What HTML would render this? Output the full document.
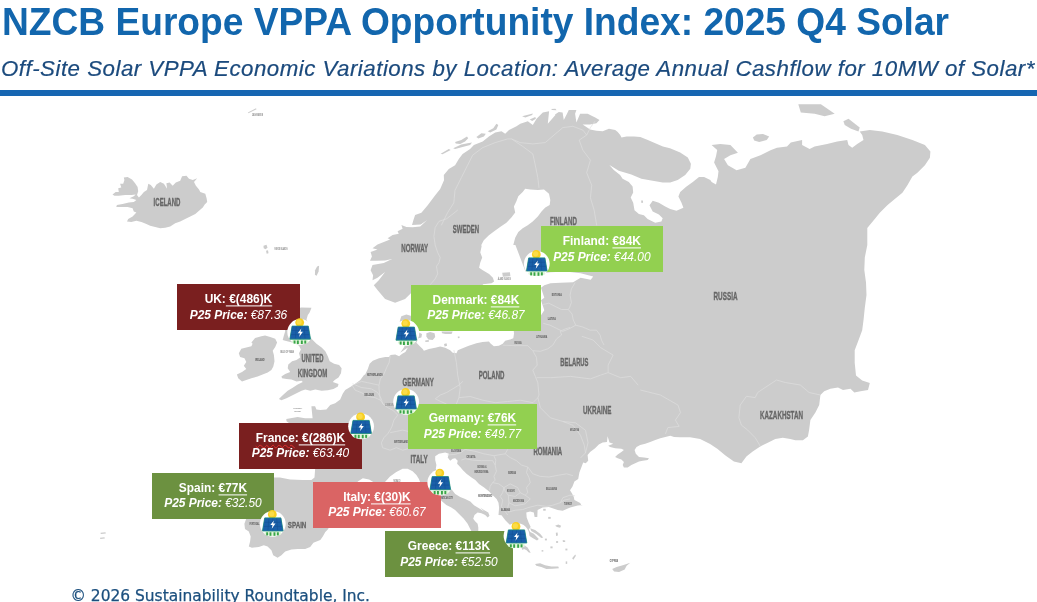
<!DOCTYPE html>
<html lang="en"><head><meta charset="utf-8"><title>NZCB Europe VPPA Opportunity Index: 2025 Q4 Solar</title>
<style>
html,body{margin:0;padding:0;background:#fff;}
body{width:1037px;height:602px;position:relative;overflow:hidden;font-family:"Liberation Sans",sans-serif;}
#title{position:absolute;left:1.6px;top:0.6px;font:bold 38.6px "Liberation Sans",sans-serif;color:#1266ad;white-space:nowrap;line-height:42px;transform:scaleX(0.9625);transform-origin:0 0;}
#sub{position:absolute;left:1px;top:56px;font:italic 22.3px "Liberation Sans",sans-serif;color:#1b4a7d;-webkit-text-stroke:0.2px #1b4a7d;white-space:nowrap;letter-spacing:0.49px;line-height:26px;}
#rule{position:absolute;left:0;top:89.8px;width:1037px;height:6px;background:#1666b2;}
#map{position:absolute;left:0;top:0;}
.box{position:absolute;color:#fff;text-align:center;white-space:nowrap;}
.box .in{position:absolute;left:-20px;right:-20px;top:50%;margin-top:0px;transform:translateY(-50%) scaleX(0.89);}
.l1{font:bold 13.4px "Liberation Sans",sans-serif;line-height:15.6px;}
.l1 u{text-decoration-thickness:1px;text-underline-offset:1.5px;text-decoration-skip-ink:none;white-space:pre;}
.l2{font:italic 13.4px "Liberation Sans",sans-serif;line-height:15.6px;}
.l2 b{font-weight:bold;}
#foot{position:absolute;left:70.5px;top:585.5px;-webkit-text-stroke:0.25px #1b4f7e;font:15.45px "DejaVu Sans","Liberation Sans",sans-serif;color:#1b4f7e;white-space:nowrap;line-height:20px;}
.cl{font:bold 11px "Liberation Sans",sans-serif;fill:#6b6b6b;}
</style></head><body>

<svg id="map" width="1037" height="602" viewBox="0 0 1037 602">
<g fill="#cccccc" stroke="none">
<path d="M435.2 297.7 L417.7 295.2 L411.4 292.7 L405.1 299.0 L395.1 302.8 L385.1 299.0 L377.5 290.0 L373.8 285.2 L378.8 280.2 L385.1 272.0 L377.5 277.7 L372.5 280.2 L373.1 275.2 L370.6 270.2 L372.5 265.1 L383.8 262.9 L392.0 258.9 L385.1 260.4 L376.3 260.8 L370.0 260.8 L371.9 256.4 L370.6 252.0 L377.5 249.5 L372.5 248.2 L377.5 244.5 L383.8 242.0 L390.1 239.4 L387.6 238.2 L392.6 235.1 L398.8 233.8 L397.6 231.3 L402.6 228.8 L401.4 225.0 L406.4 226.9 L412.6 227.2 L420.2 226.5 L427.1 220.0 L420.8 224.4 L412.0 225.0 L413.3 220.6 L415.1 215.0 L421.4 212.8 L427.7 205.3 L435.2 195.3 L440.2 189.0 L444.0 180.2 L443.8 175.0 L448.8 168.9 L455.1 165.2 L458.8 158.9 L462.6 153.9 L470.1 148.9 L473.9 145.1 L482.7 141.4 L488.9 136.4 L495.2 132.6 L501.5 131.3 L505.2 133.8 L509.0 130.1 L516.5 126.3 L520.3 123.8 L527.8 121.3 L532.8 125.1 L536.6 118.8 L542.8 112.5 L549.1 111.3 L547.8 123.8 L555.4 115.0 L555.0 114.4 L558.8 111.9 L562.6 112.5 L563.8 120.1 L567.0 113.8 L568.8 110.0 L576.4 110.0 L575.1 113.8 L576.4 122.6 L580.1 113.8 L587.6 113.8 L595.2 117.6 L599.5 120.1 L596.4 123.2 L590.1 124.4 L582.6 124.4 L590.1 129.5 L596.4 130.7 L602.7 131.3 L608.9 128.8 L615.2 130.1 L617.7 132.0 L620.2 135.1 L621.5 137.6 L626.5 136.4 L634.0 136.4 L640.3 137.0 L647.8 140.1 L655.3 143.2 L662.9 146.4 L670.0 148.3 L680.2 152.5 L687.8 157.5 L690.9 163.8 L690.3 168.8 L685.2 175.1 L677.7 180.1 L670.2 182.6 L662.7 182.6 L652.7 180.7 L641.4 178.8 L631.3 174.4 L618.8 170.7 L609.4 165.0 L613.8 170.1 L620.1 175.1 L622.6 178.8 L628.8 182.0 L632.6 186.4 L633.2 192.6 L630.7 197.6 L633.2 202.7 L634.5 210.2 L638.9 213.9 L643.9 215.2 L647.6 218.9 L655.2 222.7 L661.4 221.5 L662.7 218.3 L658.9 214.6 L652.7 211.4 L649.5 205.2 L652.7 200.8 L658.9 202.7 L665.2 206.4 L670.2 208.9 L676.5 210.8 L683.4 207.7 L681.5 202.7 L678.4 196.4 L680.2 192.0 L686.5 186.4 L692.8 182.0 L699.0 177.0 L704.1 177.0 L710.3 180.1 L711.6 182.0 L716.0 184.5 L717.8 177.0 L718.5 171.3 L714.1 162.5 L716.0 156.3 L717.2 150.0 L711.6 145.1 L720.3 143.9 L730.4 145.1 L737.9 152.7 L730.4 155.2 L724.1 158.9 L727.9 165.2 L736.6 170.2 L745.4 167.7 L750.4 158.9 L760.5 155.2 L770.5 150.2 L777.0 147.7 L787.0 146.4 L790.8 142.6 L802.1 140.1 L802.1 145.1 L809.6 148.9 L814.6 146.4 L827.1 143.9 L837.2 141.4 L847.2 140.1 L848.5 145.1 L852.2 147.7 L857.2 143.9 L863.5 140.1 L862.2 135.1 L859.7 131.4 L869.8 130.1 L882.3 131.4 L897.3 135.1 L912.4 140.1 L924.9 145.1 L930.4 151.4 L929.9 157.7 L924.9 165.2 L917.4 172.7 L912.4 176.5 L907.4 185.3 L902.4 192.8 L894.8 199.1 L887.3 205.3 L879.8 212.8 L873.5 220.4 L867.3 227.9 L867.3 244.9 L867.3 245.0 L864.8 257.5 L864.3 270.1 L866.0 282.6 L866.5 295.1 L864.8 307.7 L863.5 320.2 L862.2 330.2 L858.5 340.3 L854.7 350.3 L854.7 362.8 L856.0 375.4 L862.2 380.4 L869.8 382.9 L868.0 390.0 L860.5 391.3 L854.3 392.5 L850.5 388.8 L843.0 390.0 L838.0 387.5 L830.4 388.8 L824.2 391.3 L820.4 395.0 L819.2 405.1 L815.4 412.6 L810.4 420.1 L809.1 430.1 L807.9 436.4 L802.9 440.2 L795.3 440.2 L790.3 438.9 L782.8 437.7 L775.3 438.9 L767.8 442.7 L760.2 446.4 L752.7 451.5 L746.4 456.5 L741.4 463.2 L733.9 461.5 L725.1 455.2 L717.6 448.9 L710.1 443.9 L700.1 438.9 L690.0 437.2 L680.0 437.2 L674.1 436.9 L670.3 435.7 L665.3 436.9 L660.3 438.2 L655.3 440.0 L650.2 441.9 L645.2 443.8 L640.2 445.1 L636.5 446.9 L634.6 450.1 L635.8 453.8 L639.0 457.0 L644.0 457.6 L649.0 458.2 L647.7 460.1 L642.7 460.7 L639.0 461.4 L635.2 463.2 L631.4 465.1 L627.7 467.6 L623.9 467.6 L622.7 465.1 L623.9 462.0 L621.4 459.5 L617.7 458.2 L615.1 457.0 L617.7 454.5 L621.4 452.0 L623.9 450.1 L621.4 448.8 L615.1 448.2 L610.1 446.9 L608.2 445.7 L613.3 443.8 L609.5 442.6 L607.6 436.3 L607.0 441.9 L602.6 442.6 L598.8 444.4 L595.1 448.2 L590.1 452.0 L587.6 455.1 L588.2 460.7 L585.7 463.2 L583.2 462.6 L581.3 467.6 L579.4 472.6 L578.2 478.9 L574.4 481.4 L572.5 486.4 L570.0 490.2 L571.9 493.3 L573.8 497.1 L574.4 500.0 L580.2 502.9 L581.4 505.4 L582.7 505.0 L577.7 505.6 L570.2 507.5 L562.7 510.7 L557.6 510.0 L548.9 506.9 L542.6 507.5 L537.6 510.0 L537.3 516.9 L534.6 516.9 L533.8 512.5 L530.1 511.5 L526.3 512.5 L526.7 517.6 L528.6 522.6 L530.7 527.0 L528.8 529.5 L530.1 532.0 L533.8 533.8 L538.8 538.9 L537.0 540.4 L532.6 537.9 L528.8 535.4 L527.6 537.6 L526.3 542.6 L525.0 545.8 L527.6 547.6 L530.7 552.7 L528.8 552.4 L526.3 550.1 L524.0 549.1 L522.5 550.1 L520.3 545.3 L515.3 535.3 L510.3 525.2 L505.3 520.2 L501.5 515.2 L498.5 515.0 L499.1 507.7 L498.5 502.7 L496.6 498.9 L492.8 495.2 L489.1 491.4 L484.1 487.6 L479.0 483.9 L475.3 480.1 L471.5 477.6 L466.5 473.8 L462.7 470.1 L460.2 467.0 L457.1 463.8 L457.7 460.7 L455.2 458.2 L452.7 458.8 L450.2 460.7 L447.7 457.6 L448.9 453.8 L445.2 452.5 L438.9 453.8 L435.2 456.3 L435.2 460.1 L436.4 465.1 L435.8 468.8 L442.7 481.4 L452.1 490.1 L455.2 493.9 L460.2 497.0 L465.2 498.9 L470.3 501.4 L474.0 505.2 L479.0 508.3 L484.1 511.5 L487.8 515.0 L480.1 507.5 L483.9 510.0 L488.3 512.5 L489.5 515.7 L487.7 517.6 L485.2 515.0 L481.4 513.2 L477.6 512.5 L474.5 515.0 L473.2 518.8 L475.1 521.3 L477.6 523.8 L478.3 527.6 L478.3 531.0 L477.6 536.4 L473.9 537.6 L471.4 535.1 L471.4 531.0 L470.1 528.8 L467.6 523.8 L463.8 518.8 L458.8 513.8 L455.1 510.0 L451.3 507.5 L446.3 505.0 L441.9 501.3 L440.7 500.0 L430.1 490.1 L420.1 482.0 L418.9 478.9 L416.4 475.1 L412.6 471.3 L407.6 468.8 L402.6 468.8 L396.3 472.0 L390.0 476.4 L385.0 482.0 L385.3 482.6 L374.1 482.6 L369.1 479.5 L362.8 478.2 L357.8 481.4 L357.1 483.2 L327.8 521.3 L329.0 527.6 L327.8 529.5 L325.3 532.0 L322.8 536.4 L320.3 540.1 L313.4 542.7 L310.2 547.0 L305.2 548.9 L297.7 548.9 L291.4 549.5 L285.2 551.4 L281.4 555.2 L277.6 557.7 L273.2 555.2 L271.4 550.2 L267.6 546.4 L263.8 545.2 L258.8 547.0 L251.9 547.7 L248.8 546.4 L250.1 541.4 L250.7 536.4 L248.8 531.4 L245.0 528.9 L244.4 523.8 L246.3 518.6 L246.3 502.5 L248.8 482.5 L265.0 477.6 L273.8 477.6 L280.0 477.6 L290.1 479.5 L302.6 480.1 L311.4 480.1 L314.5 477.6 L315.1 469.5 L314.5 458.8 L310.3 450.1 L305.3 437.6 L295.3 427.6 L286.5 421.3 L286.3 418.9 L297.6 417.0 L305.1 418.2 L312.6 418.2 L312.0 412.6 L311.4 406.3 L315.1 406.3 L316.4 409.5 L320.2 410.1 L326.4 409.5 L330.2 405.1 L335.2 403.2 L340.2 399.4 L342.7 393.8 L345.2 390.0 L350.2 386.9 L355.3 383.8 L360.3 380.0 L364.0 375.0 L365.2 374.5 L367.8 368.9 L369.6 363.8 L372.8 360.7 L379.0 358.2 L385.3 357.0 L389.1 357.0 L390.3 355.1 L395.3 354.4 L399.1 356.3 L402.2 353.8 L405.4 351.9 L407.9 347.6 L400.1 352.7 L402.0 350.2 L404.5 346.4 L402.6 340.1 L399.5 332.6 L398.8 326.4 L400.1 320.1 L401.3 316.3 L406.4 314.4 L410.7 315.7 L412.6 321.3 L415.1 327.6 L418.9 332.6 L422.0 333.9 L421.4 337.6 L418.3 338.3 L416.4 342.7 L420.1 346.4 L422.7 348.9 L423.9 350.8 L428.9 348.9 L435.2 347.7 L440.2 346.4 L445.2 347.7 L450.2 350.2 L452.7 352.7 L456.5 353.3 L457.8 350.2 L462.6 348.2 L468.8 345.7 L476.4 343.2 L482.6 341.9 L488.9 341.6 L490.8 343.8 L493.9 346.3 L498.9 345.7 L502.7 343.8 L505.2 340.7 L510.2 339.4 L513.3 338.2 L514.0 333.8 L513.7 330.0 L541.0 315.3 L544.3 310.3 L541.0 300.2 L544.3 297.7 L541.0 287.7 L544.3 285.2 L550.5 283.2 L560.6 282.7 L573.1 282.2 L580.6 277.7 L590.7 279.7 L593.2 276.4 L580.6 273.2 L565.6 271.4 L550.5 272.2 L535.5 273.9 L525.5 271.4 L523.0 265.1 L519.2 255.1 L515.4 245.1 L513.3 245.0 L515.2 237.7 L518.3 232.1 L522.7 228.3 L527.7 225.2 L532.7 221.4 L537.8 216.4 L541.5 211.4 L545.3 207.6 L549.7 205.1 L550.3 200.1 L549.0 193.8 L544.0 189.4 L537.8 190.1 L530.2 189.4 L525.2 188.8 L522.7 191.9 L518.3 196.3 L516.4 201.3 L513.9 206.4 L515.2 212.6 L511.4 217.6 L506.4 222.7 L500.1 227.0 L493.9 231.4 L488.9 235.2 L483.8 240.2 L481.3 245.0 L481.6 246.3 L480.3 252.6 L482.2 257.6 L480.3 262.6 L479.1 267.7 L482.8 270.2 L489.1 273.9 L492.9 277.7 L494.1 281.4 L491.6 283.3 L482.8 284.2 L482.8 292.7 Z"/>
<path d="M112.5 194.5 L115.7 192.0 L118.8 192.0 L118.2 188.2 L121.3 187.6 L120.1 183.8 L123.2 183.8 L124.4 180.0 L123.8 177.5 L127.6 176.9 L132.0 179.4 L135.1 183.2 L137.6 186.9 L138.2 191.3 L137.0 195.1 L138.9 197.6 L141.4 195.1 L143.9 192.0 L147.0 190.1 L148.3 183.8 L150.8 185.1 L153.9 188.8 L156.4 184.4 L160.2 181.9 L163.9 183.8 L167.1 188.8 L166.4 183.2 L169.6 182.6 L172.7 185.7 L175.8 182.6 L180.2 180.7 L182.1 176.3 L186.5 175.7 L189.0 178.8 L192.8 180.0 L197.2 178.2 L194.0 181.9 L195.9 185.7 L199.0 189.4 L200.3 192.0 L205.3 193.8 L206.6 198.2 L207.2 202.0 L204.7 204.5 L202.8 207.6 L199.0 210.8 L195.3 213.9 L190.3 216.4 L185.2 218.9 L180.2 221.4 L175.2 223.3 L170.2 226.4 L165.2 227.7 L160.2 228.3 L155.2 227.1 L150.1 225.8 L146.4 223.9 L141.4 222.0 L136.4 220.8 L131.3 222.0 L127.0 221.4 L128.2 218.9 L132.6 216.4 L136.4 212.6 L133.8 211.4 L132.6 208.2 L127.6 207.0 L121.3 207.0 L116.3 207.0 L116.9 205.1 L122.6 203.9 L128.8 202.6 L133.8 202.0 L136.4 200.1 L132.6 198.8 L129.5 198.2 L133.8 196.3 L135.7 194.5 L131.3 195.1 L125.1 195.1 L118.8 195.7 L114.4 195.7 Z"/>
<path d="M263.5 245.7 L266.5 244.7 L267.5 247.8 L265.5 249.3 L263.7 248.3 Z"/>
<path d="M266.0 250.8 L268.0 250.3 L268.5 253.3 L266.7 253.8 Z"/>
<path d="M315.1 270.3 L317.1 266.6 L319.1 265.8 L318.6 271.6 L316.6 275.8 L314.9 274.8 Z"/>
<path d="M311.5 338.8 L316.5 343.8 L321.6 347.6 L325.3 351.3 L327.8 356.3 L329.7 361.3 L334.1 363.8 L339.1 365.1 L341.6 368.2 L341.0 373.2 L338.5 377.6 L334.7 380.1 L332.8 382.0 L338.5 383.9 L337.9 386.4 L333.5 388.9 L327.8 390.2 L321.6 390.8 L315.3 389.5 L310.3 390.8 L305.3 389.5 L301.5 390.8 L296.5 393.3 L291.5 395.8 L286.5 398.3 L281.4 400.2 L278.9 398.9 L282.7 395.2 L287.7 390.8 L292.7 387.7 L297.7 384.5 L302.8 382.0 L301.5 380.8 L296.5 381.4 L291.5 379.5 L286.5 378.9 L282.1 378.3 L281.4 376.4 L285.2 373.9 L290.2 372.0 L287.7 368.2 L288.3 364.5 L292.1 361.3 L296.5 360.1 L300.2 357.6 L299.0 353.2 L300.9 349.4 L299.0 345.7 L295.2 343.2 L290.2 341.9 L285.2 340.7 L282.7 340.0 L283.9 335.6 L285.2 331.3 L283.9 323.7 L287.7 317.5 L292.7 311.2 L300.9 307.4 L311.5 307.7 L309.6 312.4 L307.8 315.1 L306.5 319.5 L309.0 325.0 L310.9 332.5 Z"/>
<path d="M251.4 342.5 L255.1 338.1 L261.4 336.3 L265.1 335.6 L270.2 336.9 L275.2 338.8 L277.1 342.5 L275.2 346.9 L272.7 350.7 L273.9 355.1 L274.5 361.3 L273.3 366.4 L271.4 370.1 L267.7 372.6 L262.6 374.5 L257.6 376.4 L251.4 378.3 L246.3 380.1 L242.0 381.4 L238.2 378.3 L236.9 374.5 L242.0 372.0 L246.3 368.9 L243.8 365.7 L246.3 362.0 L244.5 358.2 L240.1 357.0 L238.8 353.2 L241.3 348.8 L246.3 347.6 L251.4 346.3 L252.6 343.8 Z"/>
<path d="M440.7 153.7 L448.8 149.1 L450.7 150.1 L442.5 154.2 Z"/>
<path d="M453.2 148.3 L461.3 144.5 L467.6 143.2 L472.0 142.6 L470.1 145.1 L462.6 147.0 L455.1 149.1 Z"/>
<path d="M455.1 142.0 L461.3 140.1 L467.0 136.6 L468.2 138.2 L465.1 141.4 L460.1 143.9 L455.7 143.6 Z"/>
<path d="M476.4 137.0 L481.4 133.2 L485.8 133.8 L483.9 136.4 L478.3 138.6 Z"/>
<path d="M487.7 131.3 L493.3 128.2 L496.4 123.8 L498.3 125.1 L496.4 129.5 L490.2 132.6 Z"/>
<path d="M522.1 116.3 L529.0 114.4 L532.8 113.5 L532.2 115.0 L525.3 117.6 Z"/>
<path d="M529.7 119.4 L535.3 116.9 L535.9 118.8 L532.2 121.1 Z"/>
<path d="M551.0 109.0 L555.4 108.8 L556.6 110.3 L552.2 110.0 Z"/>
<path d="M535.1 563.9 L540.1 563.3 L545.1 565.2 L551.4 566.4 L558.3 566.4 L558.9 568.3 L552.6 568.7 L546.4 568.9 L541.3 567.1 L536.3 565.8 Z"/>
<path d="M612.2 568.9 L616.6 567.1 L622.8 565.2 L630.3 562.7 L626.6 565.8 L624.7 569.6 L619.1 572.1 L614.1 571.5 Z"/>
<path d="M530.1 528.2 L535.1 530.1 L540.1 533.8 L543.2 537.6 L541.3 537.9 L536.3 534.1 L531.3 531.0 Z"/>
<path d="M572.1 558.3 L575.2 554.5 L575.9 555.8 L573.4 559.7 Z"/>
<path d="M555.1 525.7 L558.3 524.4 L561.1 525.7 L560.1 527.8 L557.0 527.0 Z"/>
<path d="M555.8 532.8 L557.6 532.6 L557.9 535.6 L556.1 535.9 Z"/>
<path d="M562.7 540.1 L565.2 540.4 L565.2 542.0 L562.9 542.0 Z"/>
<path d="M543.2 508.8 L545.7 508.8 L545.7 510.7 L543.2 510.7 Z"/>
<path d="M548.2 516.9 L550.7 516.9 L550.7 518.8 L548.2 518.8 Z"/>
<path d="M550.4 546.4 L552.6 546.4 L552.6 548.3 L550.4 548.3 Z"/>
<path d="M544.9 538.6 L546.9 538.6 L546.9 540.4 L544.9 540.4 Z"/>
<path d="M541.6 550.1 L543.3 550.1 L543.3 551.6 L541.6 551.6 Z"/>
<path d="M565.4 548.6 L567.4 548.6 L567.4 550.4 L565.4 550.4 Z"/>
<path d="M556.1 541.1 L558.1 541.1 L558.1 542.9 L556.1 542.9 Z"/>
<path d="M565.7 561.4 L567.2 561.4 L567.2 563.9 L565.7 563.9 Z"/>
<path d="M502.2 272.7 L509.9 272.2 L510.4 276.2 L502.9 276.7 Z"/>
<path d="M426.4 333.2 L430.2 332.0 L434.6 333.2 L435.2 337.0 L432.7 340.1 L428.3 339.5 L426.4 336.4 Z"/>
<path d="M441.5 331.4 L452.7 331.4 L451.5 333.9 L445.2 333.9 L442.1 333.2 Z"/>
<path d="M444.0 343.9 L446.5 343.3 L447.1 345.8 L444.6 346.4 Z"/>
<path d="M425.2 340.4 L428.7 340.1 L428.9 341.8 L425.4 342.0 Z"/>
<path d="M457.8 336.4 L459.5 336.4 L459.6 338.1 L457.9 338.3 Z"/>
<path d="M247.9 112.5 L256.0 108.3 L256.5 109.2 L248.4 113.3 Z"/>
<path d="M100.5 532.7 L105.5 532.2 L105.8 533.5 L100.8 534.0 Z"/>
<path d="M100.0 537.7 L104.5 537.2 L104.8 538.5 L100.3 539.0 Z"/>
<path d="M641.1 200.4 L642.9 200.4 L643.1 202.7 L641.4 202.9 Z"/>
<path d="M752.9 137.6 L756.7 134.6 L763.0 133.9 L769.2 136.4 L766.7 140.1 L759.2 141.9 L754.2 140.6 Z"/>
<path d="M798.3 104.3 L820.9 104.3 L834.7 113.8 L824.6 116.3 L814.6 113.8 L800.8 112.6 Z"/>
<path d="M843.4 121.3 L848.5 118.8 L859.7 127.6 L858.5 131.4 L851.0 128.8 L844.7 125.1 Z"/>
</g>
<g fill="#ffffff" stroke="none">
</g>
<g fill="none" stroke="#dedede" stroke-width="0.7" stroke-linejoin="round">
<path d="M441.3 225.4 L447.5 212.8 L453.8 202.8 L455.0 190.3 L461.3 177.7 L467.6 165.2 L472.6 155.2 L482.6 147.7 L495.2 142.6 L507.7 138.9 L511.5 138.9"/>
<path d="M511.5 138.9 L520.2 142.6 L532.8 143.9 L545.3 142.6 L555.3 133.9 L562.9 127.6 L572.9 126.3 L582.9 130.1 L586.7 135.1"/>
<path d="M586.7 135.1 L590.4 127.6 L594.9 121.3"/>
<path d="M511.5 138.9 L522.7 146.4 L532.8 153.9 L535.3 165.2 L537.8 177.7 L539.0 187.8"/>
<path d="M586.7 135.1 L579.2 140.1 L582.9 150.2 L590.4 160.2 L586.7 172.7 L591.7 185.3 L590.4 197.8 L594.2 210.3 L596.7 225.4"/>
<path d="M457.8 210.0 L451.5 215.0 L446.5 218.8 L439.0 221.3 L435.2 227.5 L433.9 236.3 L435.2 245.1 L437.7 252.6 L440.2 257.6 L439.0 262.6 L436.5 266.4 L437.7 273.9 L435.2 278.9 L431.4 283.3 L430.2 284.7"/>
<path d="M575.2 282.5 L571.4 288.8 L570.1 295.1 L571.4 302.6 L569.5 307.6 L568.3 309.5"/>
<path d="M543.2 304.5 L548.8 303.2 L555.1 306.4 L561.4 309.5 L568.3 309.5"/>
<path d="M568.3 309.5 L572.0 313.9 L573.3 320.1 L575.8 325.2"/>
<path d="M543.2 323.3 L550.1 325.2 L556.4 328.3 L562.6 331.4 L568.9 328.9 L575.8 325.2"/>
<path d="M575.8 325.2 L582.7 327.0 L590.2 330.2 L596.5 330.2 L600.2 335.2 L601.5 340.2 L604.0 345.0"/>
<path d="M453.9 350.1 L456.4 362.6 L457.7 375.1 L460.2 387.7 L458.9 397.7 L456.4 404.0"/>
<path d="M458.9 397.7 L470.2 396.5 L482.7 400.2 L495.3 402.7 L507.8 401.5 L520.3 400.2 L532.9 402.7 L537.9 397.7"/>
<path d="M532.8 350.7 L536.5 357.6 L537.2 365.1 L532.8 370.1 L535.3 376.4 L537.8 382.7 L539.0 395.0 L537.8 397.7"/>
<path d="M502.7 345.1 L515.2 345.7 L527.8 345.7 L532.8 350.7"/>
<path d="M532.8 350.7 L540.3 351.3 L547.8 348.8 L552.8 345.1 L556.6 338.8 L561.6 335.0 L560.3 331.3 L565.4 328.8 L570.0 327.5"/>
<path d="M536.6 377.7 L550.4 377.7 L570.5 376.4 L590.5 378.9 L600.6 375.1 L608.1 372.6"/>
<path d="M581.8 336.3 L593.1 340.0 L600.6 347.6 L613.1 355.1 L608.1 365.1 L608.1 372.6"/>
<path d="M608.1 372.6 L620.6 377.7 L630.7 376.4 L638.2 385.2"/>
<path d="M640.3 390.0 L660.4 395.0 L678.0 405.1 L680.5 412.6 L675.4 420.1 L679.2 426.4 L667.9 427.6 L665.4 433.9"/>
<path d="M537.9 397.7 L540.4 407.7 L550.4 417.8 L563.0 421.5 L575.5 422.8 L585.5 430.3 L588.0 442.8 L585.5 452.9 L580.5 457.9"/>
<path d="M563.0 421.5 L573.0 425.3 L580.5 435.3 L584.3 445.3 L585.5 452.9"/>
<path d="M820.4 395.0 L809.1 392.5 L800.3 385.0 L785.3 382.5 L776.5 380.0 L765.2 387.5 L757.7 392.5 L755.2 397.6 L746.4 396.3 L740.2 405.1 L738.9 417.6 L741.4 425.1 L747.7 430.1 L755.2 437.7 L759.0 443.9 L760.2 446.4"/>
<path d="M447.5 455.0 L455.0 454.4 L461.3 452.5 L465.1 449.4"/>
<path d="M465.1 449.4 L475.1 451.3 L483.9 453.8 L493.9 455.7"/>
<path d="M461.3 460.1 L465.1 458.8 L472.6 460.1 L481.4 460.7 L492.7 460.7 L495.2 465.1 L496.4 471.3 L493.9 476.4 L495.2 480.1 L492.7 482.6 L490.1 486.4 L489.5 490.1"/>
<path d="M493.9 455.7 L495.8 460.1 L495.2 465.1"/>
<path d="M492.7 482.6 L498.9 483.9 L503.9 487.6 L502.7 492.7 L500.2 496.4"/>
<path d="M507.7 449.4 L505.2 453.8 L493.9 455.7"/>
<path d="M505.2 453.8 L510.2 457.6 L516.5 460.7 L521.5 465.1 L527.8 467.0 L526.5 472.6 L529.0 477.6 L530.3 482.6 L526.5 487.6 L527.8 492.7 L525.2 495.2"/>
<path d="M503.9 487.6 L510.2 483.9 L517.7 487.6 L520.2 492.7 L515.2 496.4 L508.3 495.2 L505.2 491.4 L503.9 487.6"/>
<path d="M508.3 495.2 L508.9 502.7 L515.2 505.8 L525.2 503.9 L530.3 498.9 L525.2 495.2 L520.2 492.7"/>
<path d="M500.2 496.4 L502.7 500.2 L501.4 506.4 L505.2 511.5 L507.7 515.0"/>
<path d="M508.9 502.7 L507.7 507.7 L508.3 512.1"/>
<path d="M508.3 512.1 L515.2 510.2 L522.7 509.6 L527.8 507.7 L537.8 505.2 L546.6 506.4 L552.8 505.2 L560.3 502.7 L564.1 500.2 L570.0 498.9"/>
<path d="M527.8 467.0 L532.8 473.8 L540.3 476.4 L549.1 477.0 L559.1 475.1 L566.6 473.8 L572.9 475.7"/>
<path d="M560.3 502.7 L562.9 497.7 L570.0 495.2 L574.8 495.8"/>
<path d="M352.5 383.8 L361.3 387.5 L371.3 388.8 L377.6 392.5 L381.4 398.8 L382.6 403.8 L387.6 407.6 L392.7 410.1 L395.2 412.6 L397.7 415.1 L393.9 420.1 L392.0 426.4 L390.1 430.1 L387.6 433.9 L383.9 437.7 L381.4 442.7 L382.6 447.7 L390.1 450.2 L396.4 447.7 L402.7 450.2 L408.3 448.7"/>
<path d="M390.1 432.7 L396.4 431.4 L402.7 430.1 L408.3 431.4"/>
<path d="M462.9 381.3 L459.1 385.0 L452.8 388.8 L446.6 392.5 L440.3 395.0 L435.3 398.8 L440.3 401.3 L446.6 404.1"/>
<path d="M390.3 355.1 L389.1 362.6 L386.6 367.6 L384.1 373.9 L380.3 378.9 L379.0 385.2"/>
<path d="M355.2 383.9 L361.5 381.4 L367.8 382.7 L379.0 385.2 L379.0 388.9 L380.3 400.2"/>
<path d="M352.1 385.2 L355.2 390.2 L361.5 392.7 L367.8 396.4 L375.3 397.7 L380.3 400.2 L384.1 405.0"/>
</g>
<g font-family="Liberation Sans, sans-serif" font-weight="bold" fill="#666666" stroke="#666666" stroke-width="0.35" text-anchor="middle">
<text x="167.0" y="205.5" font-size="11.2" textLength="26.8" lengthAdjust="spacingAndGlyphs">ICELAND</text>
<text x="312.5" y="362.0" font-size="10.6" textLength="21.9" lengthAdjust="spacingAndGlyphs">UNITED</text>
<text x="312.5" y="377.0" font-size="10.6" textLength="29.5" lengthAdjust="spacingAndGlyphs">KINGDOM</text>
<text x="297.1" y="527.6" font-size="9.8" textLength="18.5" lengthAdjust="spacingAndGlyphs">SPAIN</text>
<text x="419.2" y="463.4" font-size="11.2" textLength="17.2" lengthAdjust="spacingAndGlyphs">ITALY</text>
<text x="465.9" y="232.9" font-size="11.2" textLength="26.3" lengthAdjust="spacingAndGlyphs">SWEDEN</text>
<text x="563.4" y="225.4" font-size="11.2" textLength="27.0" lengthAdjust="spacingAndGlyphs">FINLAND</text>
<text x="414.7" y="252.1" font-size="11.2" textLength="26.8" lengthAdjust="spacingAndGlyphs">NORWAY</text>
<text x="574.4" y="366.1" font-size="11.2" textLength="28.1" lengthAdjust="spacingAndGlyphs">BELARUS</text>
<text x="491.6" y="379.4" font-size="11.2" textLength="25.6" lengthAdjust="spacingAndGlyphs">POLAND</text>
<text x="418.2" y="386.2" font-size="11.2" textLength="31.3" lengthAdjust="spacingAndGlyphs">GERMANY</text>
<text x="725.5" y="300.1" font-size="11.2" textLength="24.0" lengthAdjust="spacingAndGlyphs">RUSSIA</text>
<text x="597.2" y="413.6" font-size="11.2" textLength="28.3" lengthAdjust="spacingAndGlyphs">UKRAINE</text>
<text x="547.8" y="455.0" font-size="10.6" textLength="28.8" lengthAdjust="spacingAndGlyphs">ROMANIA</text>
<text x="781.5" y="418.6" font-size="11.2" textLength="43.0" lengthAdjust="spacingAndGlyphs">KAZAKHSTAN</text>
<text x="259.9" y="361.0" font-size="3.4" textLength="9.4" lengthAdjust="spacingAndGlyphs" stroke-width="0.08">IRELAND</text>
<text x="254.4" y="524.7" font-size="3.1" textLength="10.0" lengthAdjust="spacingAndGlyphs" stroke-width="0.08">PORTUGAL</text>
<text x="374.9" y="376.1" font-size="3.4" textLength="15.7" lengthAdjust="spacingAndGlyphs" stroke-width="0.08">NETHERLANDS</text>
<text x="369.3" y="395.6" font-size="3.4" textLength="9.4" lengthAdjust="spacingAndGlyphs" stroke-width="0.08">BELGIUM</text>
<text x="556.8" y="296.4" font-size="3.4" textLength="10.0" lengthAdjust="spacingAndGlyphs" stroke-width="0.08">ESTONIA</text>
<text x="551.8" y="319.7" font-size="3.4" textLength="8.0" lengthAdjust="spacingAndGlyphs" stroke-width="0.08">LATVIA</text>
<text x="541.8" y="337.7" font-size="3.4" textLength="11.0" lengthAdjust="spacingAndGlyphs" stroke-width="0.08">LITHUANIA</text>
<text x="518.0" y="343.7" font-size="3.1" textLength="7.0" lengthAdjust="spacingAndGlyphs" stroke-width="0.08">RUSSIA</text>
<text x="456.1" y="452.4" font-size="3.1" textLength="10.0" lengthAdjust="spacingAndGlyphs" stroke-width="0.08">SLOVENIA</text>
<text x="470.9" y="458.3" font-size="3.1" textLength="9.0" lengthAdjust="spacingAndGlyphs" stroke-width="0.08">CROATIA</text>
<text x="485.3" y="496.5" font-size="3.1" textLength="14.0" lengthAdjust="spacingAndGlyphs" stroke-width="0.08">MONTENEGRO</text>
<text x="551.5" y="490.4" font-size="3.4" textLength="11.0" lengthAdjust="spacingAndGlyphs" stroke-width="0.08">BULGARIA</text>
<text x="574.6" y="430.9" font-size="3.1" textLength="9.0" lengthAdjust="spacingAndGlyphs" stroke-width="0.08">MOLDOVA</text>
<text x="401.0" y="442.6" font-size="3.1" textLength="14.0" lengthAdjust="spacingAndGlyphs" stroke-width="0.08">SWITZERLAND</text>
<text x="568.0" y="504.9" font-size="3.1" textLength="8.0" lengthAdjust="spacingAndGlyphs" stroke-width="0.08">TURKEY</text>
<text x="482.0" y="468.1" font-size="3.1" textLength="9.0" lengthAdjust="spacingAndGlyphs" stroke-width="0.08">BOSNIA &amp;</text>
<text x="481.4" y="473.1" font-size="3.1" textLength="14.0" lengthAdjust="spacingAndGlyphs" stroke-width="0.08">HERZEGOVINA</text>
<text x="446.9" y="498.8" font-size="3.1" textLength="12.0" lengthAdjust="spacingAndGlyphs" stroke-width="0.08">VATICAN CITY</text>
<text x="397.0" y="482.0" font-size="2.8" textLength="7.0" lengthAdjust="spacingAndGlyphs" stroke="none" fill="#8a8a8a">MONACO</text>
<text x="257.5" y="116.1" font-size="2.8" textLength="11.0" lengthAdjust="spacingAndGlyphs" stroke="none" fill="#8a8a8a">JAN MAYEN</text>
<text x="281.0" y="250.0" font-size="2.8" textLength="13.0" lengthAdjust="spacingAndGlyphs" stroke="none" fill="#8a8a8a">FAROE ISLANDS</text>
<text x="287.1" y="352.7" font-size="2.8" textLength="14.0" lengthAdjust="spacingAndGlyphs" stroke="none" fill="#8a8a8a">ISLE OF MAN</text>
<text x="504.2" y="280.0" font-size="2.8" textLength="13.0" lengthAdjust="spacingAndGlyphs" stroke="none" fill="#8a8a8a">ÅLAND ISLANDS</text>
<text x="297.8" y="408.5" font-size="2.5" textLength="9.0" lengthAdjust="spacingAndGlyphs" stroke="none" fill="#8a8a8a">GUERNSEY</text>
<text x="297.8" y="411.9" font-size="2.5" textLength="7.0" lengthAdjust="spacingAndGlyphs" stroke="none" fill="#8a8a8a">JERSEY</text>
<text x="389.5" y="406.1" font-size="2.8" textLength="9.0" lengthAdjust="spacingAndGlyphs" stroke="none" fill="#8a8a8a">LUXEMBOURG</text>
<text x="512.0" y="473.6" font-size="3.1" textLength="8.0" lengthAdjust="spacingAndGlyphs" stroke-width="0.08">SERBIA</text>
<text x="505.5" y="510.6" font-size="3.1" textLength="9.0" lengthAdjust="spacingAndGlyphs" stroke-width="0.08">ALBANIA</text>
<text x="518.5" y="501.6" font-size="3.1" textLength="11.0" lengthAdjust="spacingAndGlyphs" stroke-width="0.08">MACEDONIA</text>
<text x="511.0" y="492.1" font-size="3.1" textLength="8.0" lengthAdjust="spacingAndGlyphs" stroke-width="0.08">KOSOVO</text>
<text x="614.0" y="561.9" font-size="3.1" textLength="8.4" lengthAdjust="spacingAndGlyphs" stroke-width="0.08">CYPRUS</text>
</g>
</svg>
<div id="title">NZCB Europe VPPA Opportunity Index: 2025 Q4 Solar</div>
<div id="sub">Off-Site Solar VPPA Economic Variations by Location: Average Annual Cashflow for 10MW of Solar*</div>
<div id="rule"></div>
<div class="box" style="left:177.0px;top:284.2px;width:122.9px;height:45.5px;background:#7a1f1f"><div class="in"><div class="l1">UK:<u> €(486)K</u></div><div class="l2"><b>P25 Price:</b> €87.36</div></div></div>
<div class="box" style="left:239.0px;top:423.1px;width:122.9px;height:45.5px;background:#7a1f1f"><div class="in"><div class="l1"><span style="text-decoration:underline wavy #e03030 1px;text-underline-offset:1.5px">France</span>:<u> €(286)K</u></div><div class="l2"><b>P25 Price:</b> €63.40</div></div></div>
<div class="box" style="left:152.0px;top:473.1px;width:121.9px;height:45.5px;background:#6c9140"><div class="in"><div class="l1">Spain: <u>€77K</u></div><div class="l2"><b>P25 Price:</b> €32.50</div></div></div>
<div class="box" style="left:313.1px;top:482.1px;width:127.9px;height:45.5px;background:#da6464"><div class="in"><div class="l1">Italy:<u> €(30)K</u></div><div class="l2"><b>P25 Price:</b> €60.67</div></div></div>
<div class="box" style="left:385.1px;top:531.2px;width:127.9px;height:45.5px;background:#6c9140"><div class="in"><div class="l1">Greece: <u>€113K</u></div><div class="l2"><b>P25 Price:</b> €52.50</div></div></div>
<div class="box" style="left:408.1px;top:404.1px;width:128.9px;height:44.7px;background:#92d050"><div class="in"><div class="l1">Germany: <u>€76K</u></div><div class="l2"><b>P25 Price:</b> €49.77</div></div></div>
<div class="box" style="left:411.1px;top:285.1px;width:129.9px;height:45.5px;background:#92d050"><div class="in"><div class="l1">Denmark: <u>€84K</u></div><div class="l2"><b>P25 Price:</b> €46.87</div></div></div>
<div class="box" style="left:541.2px;top:226.0px;width:121.7px;height:45.9px;background:#92d050"><div class="in"><div class="l1">Finland: <u>€84K</u></div><div class="l2"><b>P25 Price:</b> €44.00</div></div></div>
<svg id="icons" width="1037" height="602" viewBox="0 0 1037 602" style="position:absolute;left:0;top:0">
<defs><g id="ic">
<circle r="12.9" fill="#ffffff"/>
<ellipse cx="0" cy="9.6" rx="8.6" ry="2.6" fill="#e2f5dc"/>
<circle cx="-0.5" cy="-9.4" r="4.4" fill="#f8cf20"/>
<circle cx="-1.1" cy="-10" r="2.6" fill="#fbdc48"/>
<path d="M-8.1 -5.9 L8.1 -5.9 L10.3 7.2 L-10.3 7.2 Z" fill="#2a9a7c" stroke="#2a9a7c" stroke-width="0.9" stroke-linejoin="round"/>
<path d="M-7.8 -5.4 L7.8 -5.4 L9.8 6.6 L-9.8 6.6 Z" fill="#1a60a9" stroke="#1a60a9" stroke-width="0.6" stroke-linejoin="round"/>
<g stroke="#134f92" stroke-width="0.5" fill="none"><path d="M-3.9 -5.4 L-4.9 6.6 M0 -5.4 L0 6.6 M3.9 -5.4 L4.9 6.6 M-8.5 -1.5 L8.5 -1.5 M-9.1 2.6 L9.1 2.6"/></g>
<path d="M1.1 -3.4 L-2.5 1.2 L-0.3 1.2 L-1.0 4.9 L2.7 -0.3 L0.4 -0.3 Z" fill="#ffffff"/>
<g fill="#38a548"><rect x="-6.6" y="8.5" width="1.9" height="3.1"/><rect x="-3.3" y="8.5" width="1.9" height="3.5"/><rect x="0.7" y="8.5" width="1.9" height="3.5"/><rect x="4.1" y="8.5" width="1.9" height="3.1"/></g>
</g></defs>
<use href="#ic" x="300.2" y="332.0"/>
<use href="#ic" x="406.3" y="333.0"/>
<use href="#ic" x="406.1" y="401.8"/>
<use href="#ic" x="361.1" y="426.3"/>
<use href="#ic" x="272.8" y="523.8"/>
<use href="#ic" x="440.3" y="482.5"/>
<use href="#ic" x="516.5" y="535.8"/>
<use href="#ic" x="536.8" y="263.8"/>
</svg>
<div id="foot">© 2026 Sustainability Roundtable, Inc.</div>
</body></html>
